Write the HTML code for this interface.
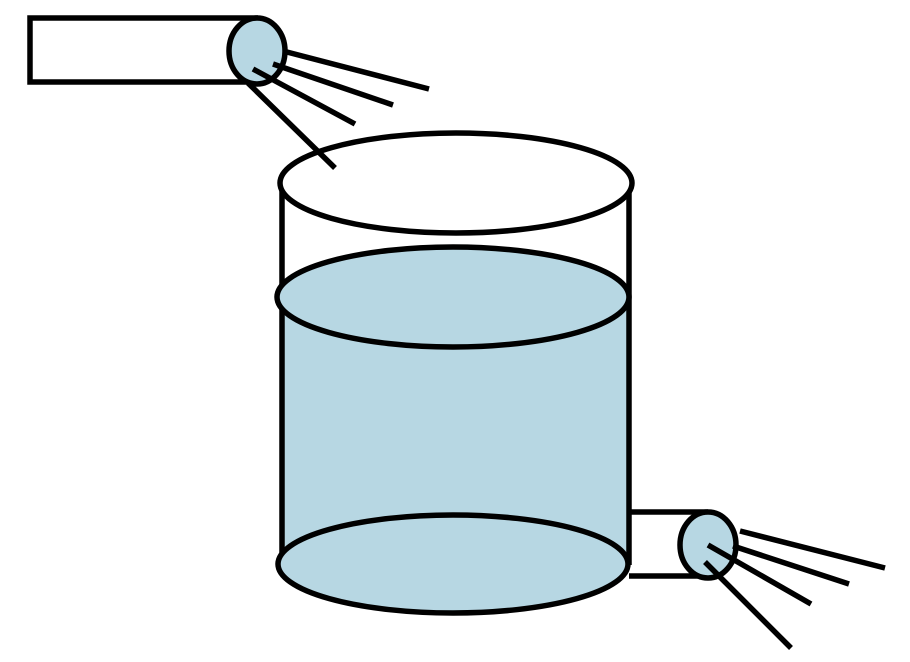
<!DOCTYPE html>
<html><head><style>html,body{margin:0;padding:0;background:#fff;width:910px;height:662px;overflow:hidden}</style></head>
<body>
<svg width="910" height="662" viewBox="0 0 910 662" xmlns="http://www.w3.org/2000/svg">
<g stroke="#000" stroke-width="5.5" fill="none">
<path d="M282 297 L282 564 A176 49 0 0 0 629 564 L629 297 Z" fill="#b7d7e3" stroke="none"/>
<line x1="282" y1="183" x2="282" y2="565"/>
<line x1="629" y1="192" x2="629" y2="565"/>
<ellipse cx="456" cy="183" rx="176" ry="50" fill="#fff"/>
<ellipse cx="453" cy="297" rx="176" ry="50" fill="#b7d7e3"/>
<path d="M629 512 L708 512 M629 576 L708 576" />
<ellipse cx="453" cy="564" rx="175" ry="49" fill="#b7d7e3"/>
<ellipse cx="708" cy="545" rx="28" ry="33" fill="#b7d7e3"/>
<line x1="740" y1="531" x2="885" y2="568"/>
<line x1="733" y1="546" x2="849" y2="584"/>
<line x1="708" y1="545" x2="811" y2="604"/>
<line x1="705" y1="562" x2="791" y2="648"/>
<path d="M258 18 L30 18 L30 82 L258 82"/>
<ellipse cx="257" cy="51" rx="28" ry="33" fill="#b7d7e3"/>
<line x1="283" y1="51" x2="429" y2="89"/>
<line x1="273" y1="64" x2="393" y2="105"/>
<line x1="253" y1="69" x2="355" y2="124"/>
<line x1="248" y1="83" x2="335" y2="168"/>
</g>
</svg>
</body></html>
